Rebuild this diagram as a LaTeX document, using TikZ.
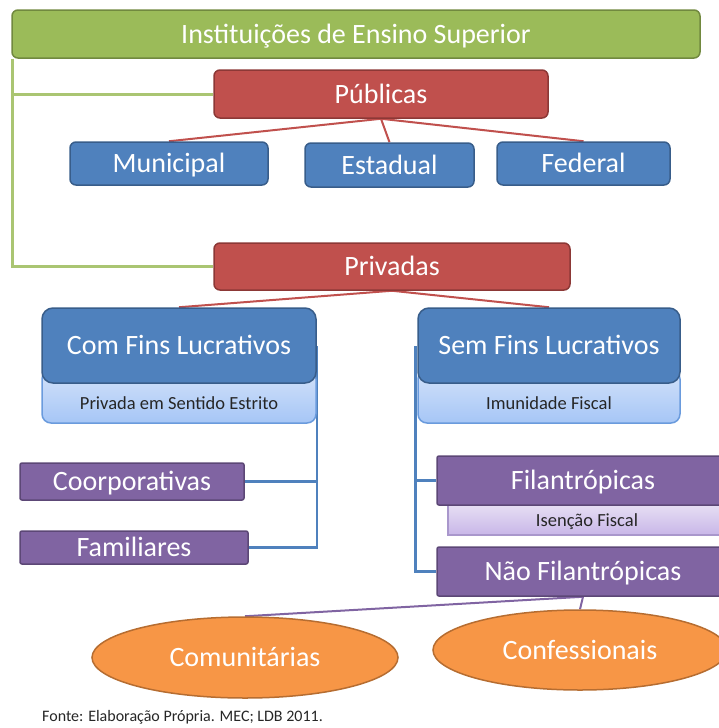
\documentclass[tikz,border=0pt]{standalone}
\usepackage{fontspec}
\setmainfont{Carlito}
\usetikzlibrary{shapes.geometric,backgrounds}
\definecolor{iesgreen}{HTML}{9BBB59}
\definecolor{iesgreenline}{HTML}{71893F}
\definecolor{iesred}{HTML}{C0504D}
\definecolor{iesredline}{HTML}{8C3836}
\definecolor{iesblue}{HTML}{4F81BD}
\definecolor{iesblueline}{HTML}{385D8A}
\definecolor{iespurple}{HTML}{8064A2}
\definecolor{iespurpleline}{HTML}{5C4776}
\definecolor{iesorange}{HTML}{F79646}
\definecolor{iesorangeline}{HTML}{B66D31}
\definecolor{subbluetop}{HTML}{D3E2FA}
\definecolor{subbluebot}{HTML}{A6C6F6}
\definecolor{subblueline}{HTML}{6A9BDD}
\definecolor{subpurpletop}{HTML}{E6DEF3}
\definecolor{subpurplebot}{HTML}{C8B6E8}
\definecolor{subpurpleline}{HTML}{A997CC}
\definecolor{subtext}{HTML}{262626}

\begin{document}
\begin{tikzpicture}[x=1pt, y=-1pt,
  big/.style={text=white, font=\fontsize{28}{30}\selectfont, text height=18pt, text depth=0pt, inner sep=0pt, line width=1.5pt},
  topbox/.style={big, draw=iesgreenline, fill=iesgreen, rounded corners=6pt},
  sector/.style={big, draw=iesredline, fill=iesred, rounded corners=6pt},
  sphere/.style={big, draw=iesblueline, fill=iesblue, rounded corners=6pt},
  kind/.style={big, draw=iesblueline, fill=iesblue, rounded corners=11pt},
  subkind/.style={draw=subblueline, top color=subbluetop, bottom color=subbluebot, rounded corners=9pt, line width=1.5pt, text=subtext, font=\fontsize{18.5}{20}\selectfont, text height=25pt, text depth=0pt, inner sep=0pt},
  group/.style={big, draw=iespurpleline, fill=iespurple, rounded corners=2pt},
  grouptag/.style={draw=subpurpleline, top color=subpurpletop, bottom color=subpurplebot, line width=1.5pt, text=subtext, font=\fontsize{18.5}{20}\selectfont, text height=12pt, text depth=0pt, inner sep=0pt},
  oval/.style={big, ellipse, draw=iesorangeline, fill=iesorange},
  greenlink/.style={draw=iesgreen!85, line width=3pt},
  redlink/.style={draw=iesred, line width=2pt},
  bluelink/.style={draw=iesblue, line width=2.5pt},
  purplelink/.style={draw=iespurple, line width=2pt},
]
\useasboundingbox (0,0) rectangle (719,728);

\node[topbox, minimum width=688pt, minimum height=48pt] (ies) at (356,34) {Instituições de Ensino Superior};
\node[sector, minimum width=334pt, minimum height=48pt] (pub) at (381,94) {Públicas};
\node[sphere, minimum width=198pt, minimum height=43pt] (mun) at (169,163.5) {Municipal};
\node[sphere, minimum width=169pt, minimum height=44pt] (est) at (389.5,165) {Estadual};
\node[sphere, minimum width=173pt, minimum height=43pt] (fed) at (583.5,163.5) {Federal};
\node[sector, minimum width=356pt, minimum height=47pt] (priv) at (392,266.5) {Privadas};

\node[subkind, minimum width=274pt, minimum height=53pt] (comsub) at (179,396.5) {Privada em Sentido Estrito};
\node[kind, minimum width=274pt, minimum height=75pt] (com) at (179,345.5) {Com Fins Lucrativos};
\node[subkind, minimum width=262pt, minimum height=53pt] (semsub) at (549,396.5) {Imunidade Fiscal};
\node[kind, minimum width=262pt, minimum height=75pt] (sem) at (549,345.5) {Sem Fins Lucrativos};

\node[group, minimum width=224pt, minimum height=37pt] (coor) at (132,481.5) {Coorporativas};
\node[group, minimum width=228pt, minimum height=33pt] (fam) at (134,547.5) {Familiares};
\node[grouptag, minimum width=278pt, minimum height=30pt] (isen) at (587,520) {Isenção Fiscal};
\node[group, minimum width=292pt, minimum height=49pt] (fil) at (583,480.5) {Filantrópicas};
\node[group, minimum width=292pt, minimum height=49pt] (nfil) at (583,571.5) {Não Filantrópicas};

\node[oval, minimum width=306pt, minimum height=81pt] (comu) at (245,657.5) {Comunitárias};
\node[oval, minimum width=294pt, minimum height=80pt] (conf) at (580,650) {Confessionais};

\node[anchor=west, inner sep=0pt, text=subtext, font=\fontsize{16}{18}\selectfont] (fonte) at (42,717) {Fonte: Elaboração Própria. MEC; LDB 2011.};

\begin{pgfonlayer}{background}
\draw[greenlink] ([xshift=1pt]ies.south west) |- (pub.west);
\draw[greenlink] ([xshift=1pt]ies.south west) |- (priv.west);
\draw[redlink] (pub.south) -- (mun.north);
\draw[redlink] (pub.south) -- (est.north);
\draw[redlink] (pub.south) -- (fed.north);
\draw[redlink] (priv.south) -- (com.north);
\draw[redlink] (priv.south) -- (sem.north);
\draw[bluelink] (coor.east) -| (com.east);
\draw[bluelink] (fam.east) -| (com.east);
\draw[bluelink] (fil.west) -| ([xshift=-2pt]sem.west);
\draw[bluelink] (nfil.west) -| ([xshift=-2pt]sem.west);
\draw[purplelink] (nfil.south) -- (comu.north);
\draw[purplelink] (nfil.south) -- (conf.north);
\end{pgfonlayer}
\end{tikzpicture}
\end{document}
